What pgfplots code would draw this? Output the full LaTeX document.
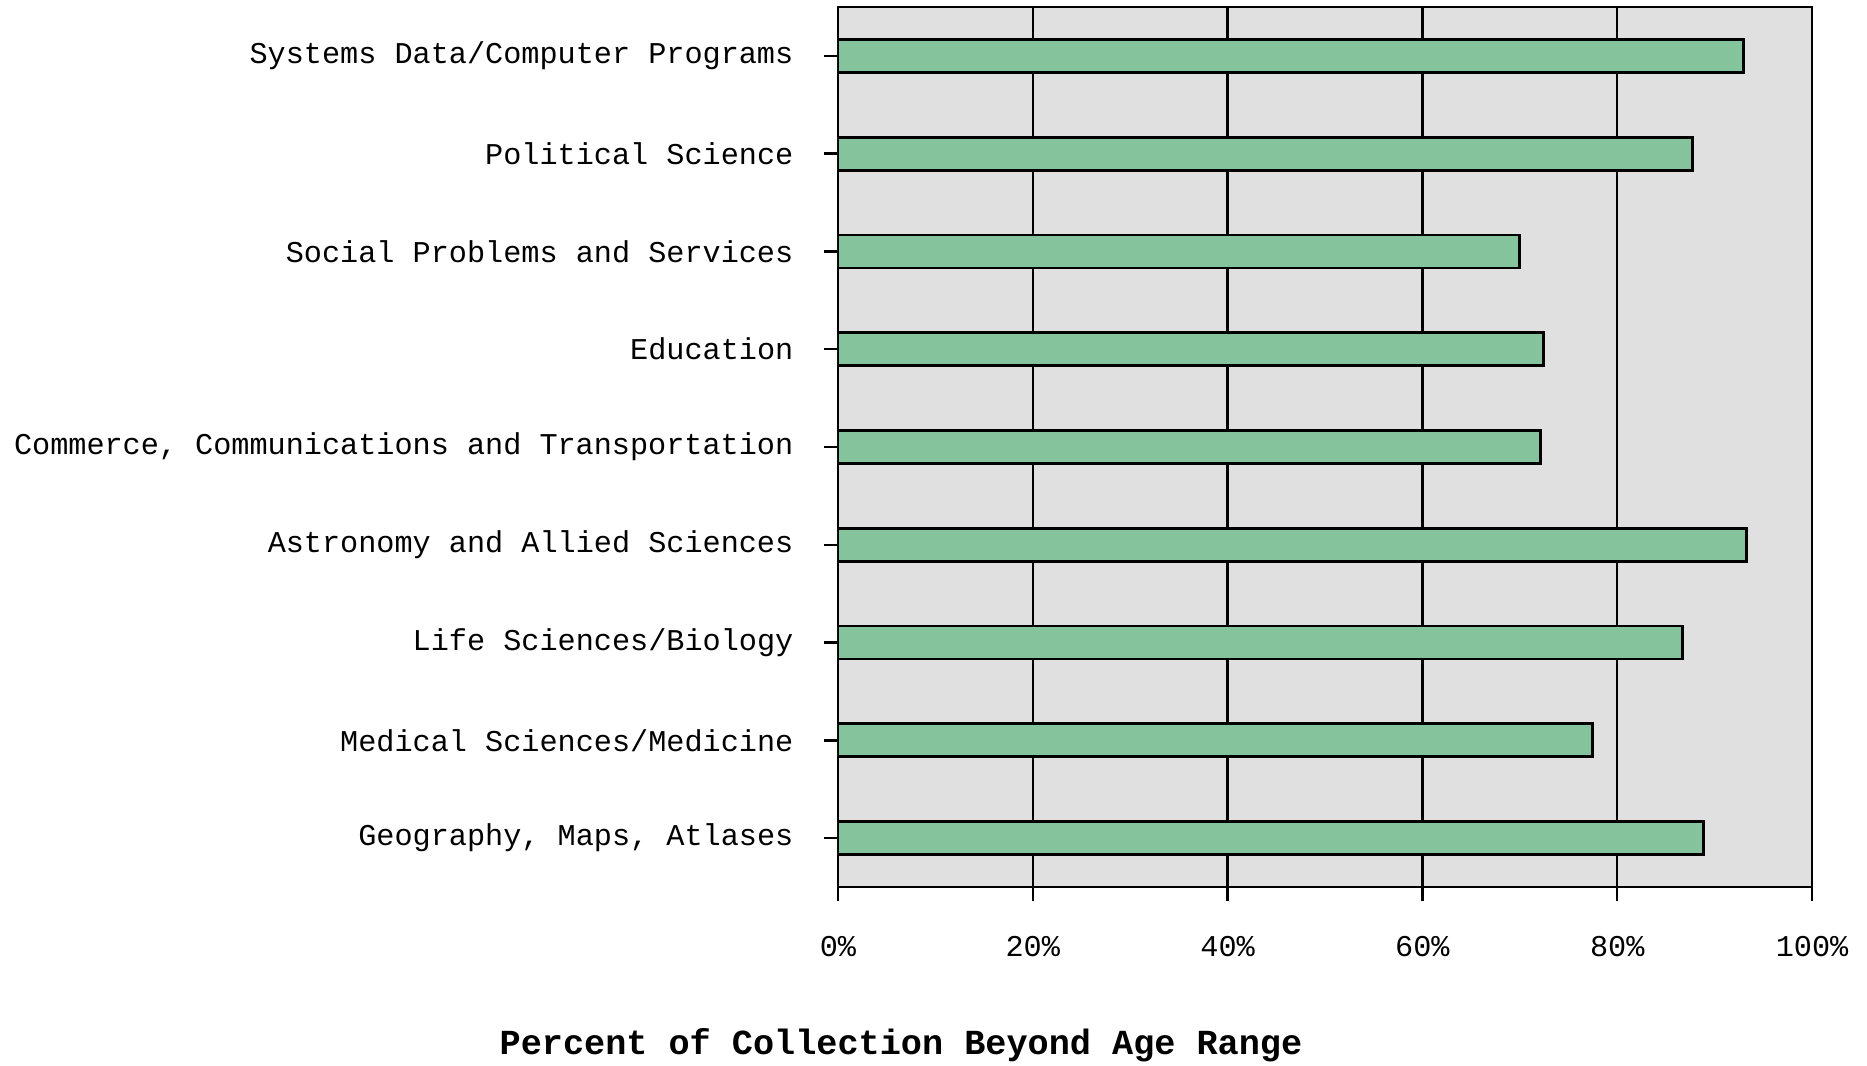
\documentclass[border=0pt]{standalone}
\usepackage{fontspec}
\setmainfont{Liberation Mono}
\usepackage{pgfplots}
\pgfplotsset{compat=1.18}
\definecolor{bgray}{HTML}{E0E0E0}
\definecolor{bargreen}{HTML}{84C39C}
\begin{document}
\begin{tikzpicture}
\useasboundingbox (-419pt,-89pt) rectangle (514.5pt,443.5pt);
\begin{axis}[
  at={(0,0)}, anchor=south west,
  scale only axis, width=487pt, height=440pt,
  xbar, bar width=16.5pt,
  xmin=0, xmax=100, ymin=-0.5, ymax=8.5,
  xtick={0,20,40,60,80,100},
  xticklabels={0\%,20\%,40\%,60\%,80\%,100\%},
  ytick={0,1,2,3,4,5,6,7,8},
  yticklabels={{Geography, Maps, Atlases},{Medical Sciences/Medicine},{Life Sciences/Biology},{Astronomy and Allied Sciences},{Commerce, Communications and Transportation},{Education},{Social Problems and Services},{Political Science},{Systems Data/Computer Programs}},
  tick align=outside, xtick pos=bottom, ytick pos=left,
  major tick length=7pt,
  tick style={black, line width=1.2pt},
  xmajorgrids, grid style={black, line width=1.2pt},
  axis line style={line width=1.4pt},
  axis background/.style={fill=bgray},
  ticklabel style={font=\fontsize{15.1}{17}\selectfont},
  yticklabel style={xshift=-11.8pt},
  xticklabel style={yshift=-14pt},
  xlabel={\textbf{Percent of Collection Beyond Age Range}},
  xlabel style={at={(axis description cs:0.0647,-0.1795)}, anchor=center, inner sep=0pt, font=\fontsize{17.6}{20}\selectfont},
]
\addplot[fill=bargreen, draw=black, line width=1.4pt] coordinates {
(88.9,0) (77.5,1) (86.7,2) (93.3,3) (72.1,4) (72.4,5) (70.0,6) (87.7,7) (93.0,8)
};
\end{axis}
\end{tikzpicture}
\end{document}
